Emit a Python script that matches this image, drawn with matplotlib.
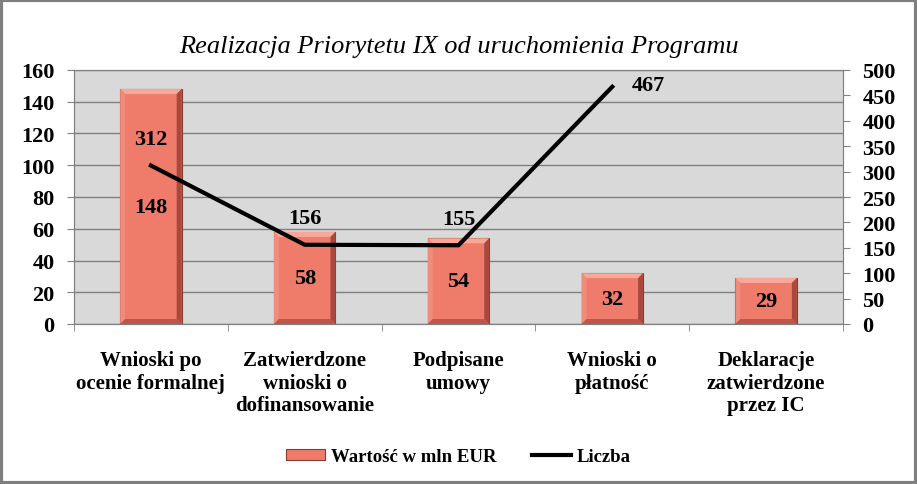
import numpy as np
import matplotlib.pyplot as plt
from matplotlib.patches import Rectangle, Polygon

categories = ["Wnioski po\nocenie formalnej", "Zatwierdzone\nwnioski o\ndofinansowanie",
              "Podpisane\numowy", "Wnioski o\npłatność", "Deklaracje\nzatwierdzone\nprzez IC"]
wartosc = [148, 58, 54, 32, 29]
liczba = [312, 156, 155, 467]

plt.rcParams["font.family"] = ["Liberation Serif", "DejaVu Serif"]

fig = plt.figure(figsize=(9.17, 4.85), dpi=100)
ax = fig.add_axes([74 / 917, 1 - 325 / 485, 769 / 917, 254 / 485])
ax.set_facecolor("#d9d9d9")

x = np.arange(len(categories))
bars = ax.bar(x, wartosc, width=0.40, color="#ef7b6b", edgecolor="#8a3a31",
              linewidth=0.8, zorder=3, label="Wartość w mln EUR")

ax.set_ylim(0, 160)
ax.set_xlim(-0.5, len(categories) - 0.5)

# bevel look on the bars (about 5 px wide)
dx = 5 / 154
dy = 5 * 160 / 254
for b in bars:
    x0, x1, h = b.get_x(), b.get_x() + b.get_width(), b.get_height()
    faces = [
        ([(x0, h), (x1, h), (x1 - dx, h - dy), (x0 + dx, h - dy)], "#f8a899"),
        ([(x0, 0), (x0, h), (x0 + dx, h - dy), (x0 + dx, dy)], "#f08c7c"),
        ([(x1, 0), (x1, h), (x1 - dx, h - dy), (x1 - dx, dy)], "#a9483d"),
        ([(x0, 0), (x1, 0), (x1 - dx, dy), (x0 + dx, dy)], "#bd5649"),
    ]
    for pts, c in faces:
        ax.add_patch(Polygon(pts, closed=True, facecolor=c, edgecolor="none", zorder=3.5))

for b, v in zip(bars, wartosc):
    ax.text(b.get_x() + b.get_width() / 2, v / 2, str(v), ha="center", va="center",
            fontsize=16, fontweight="bold", zorder=5)

ax.set_yticks(range(0, 161, 20))
ax.set_xticks(x)
ax.set_xticklabels(categories, fontsize=15, fontweight="bold", linespacing=1.15)
ax.tick_params(axis="x", length=0, pad=19)
ax.set_xticks(np.arange(-0.5, len(categories), 1), minor=True)
ax.tick_params(axis="x", which="minor", length=5, direction="out", color="#808080")
ax.tick_params(axis="y", length=5, color="#808080", labelsize=16, pad=9)
for lbl in ax.get_yticklabels():
    lbl.set_fontweight("bold")
ax.grid(axis="y", color="#808080", linewidth=1, zorder=0)
ax.set_axisbelow(True)
for s in ax.spines.values():
    s.set_color("#808080")

ax2 = ax.twinx()
ax2.set_ylim(0, 500)
ax2.set_yticks(range(0, 501, 50))
ax2.tick_params(axis="y", length=5, color="#808080", labelsize=16, pad=9)
for lbl in ax2.get_yticklabels():
    lbl.set_fontweight("bold")
for s in ax2.spines.values():
    s.set_color("#808080")
lx = x[:len(liczba)]
line, = ax2.plot(lx, liczba, color="black", linewidth=3, zorder=4, label="Liczba")
for i, (xi, v) in enumerate(zip(lx, liczba)):
    if i == len(liczba) - 1:
        ax2.annotate(str(v), (xi, v), xytext=(14, 1), textcoords="offset points",
                     ha="left", va="center", fontsize=16, fontweight="bold")
    else:
        ax2.annotate(str(v), (xi, v), xytext=(0, 19), textcoords="offset points",
                     ha="center", va="center", fontsize=16, fontweight="bold")

fig.suptitle("Realizacja Priorytetu IX od uruchomienia Programu", y=0.925,
             fontsize=19, style="italic")

fig.legend([bars, line], ["Wartość w mln EUR", "Liczba"], loc="center",
           bbox_to_anchor=(0.5, 0.056), ncol=2, frameon=False,
           prop={"size": 13.5, "weight": "bold"}, handlelength=2.1, columnspacing=1.9,
           handletextpad=0.3, handleheight=0.5)

fig.patches.append(Rectangle((0.0015, 0.003), 0.997, 0.994, transform=fig.transFigure,
                             fill=False, edgecolor="#7f7f7f", linewidth=3))

fig.savefig("out.png", dpi=100)
